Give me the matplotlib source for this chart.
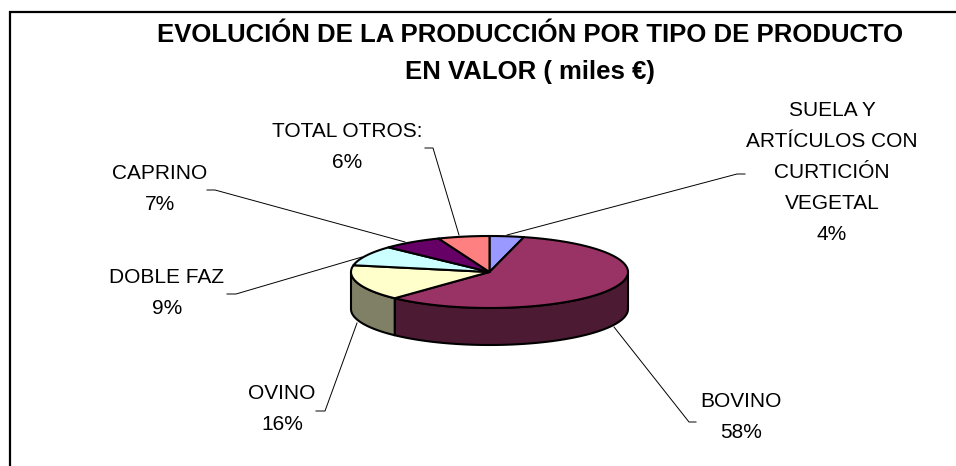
import numpy as np
import matplotlib
matplotlib.use('Agg')
import matplotlib.pyplot as plt
from matplotlib.patches import Polygon

plt.rcParams['font.family'] = ['Liberation Sans', 'DejaVu Sans']

# datos
categorias = ['SUELA Y\nARTÍCULOS CON\nCURTICIÓN\nVEGETAL', 'BOVINO', 'OVINO', 'DOBLE FAZ', 'CAPRINO', 'TOTAL OTROS:']
valores = [4, 58, 16, 9, 7, 6]
titulo = 'EVOLUCIÓN DE LA PRODUCCIÓN POR TIPO DE PRODUCTO\nEN VALOR ( miles €)'

colores = ['#9999FF', '#993366', '#FFFFCC', '#CCFFFF', '#660066', '#FF8080']
laterales = ['#4D4D80', '#4D1A33', '#808066', '#668080', '#330033', '#804040']

# geometria de la tarta en pixeles
cx, cy = 489.5, 272
rx, ry = 138.5, 36
fondo = 37

# posicion de las etiquetas y sus lineas guia
pos_texto = [(832, 172.5), (741, 417), (282, 409), (167, 293), (160, 189), (347, 147)]
guias = [
    [(745, 174), (737, 174), (507, 235)],
    [(696, 422), (689, 422), (614, 327)],
    [(316, 411), (325, 411), (357, 323)],
    [(227, 294), (236, 294), (362, 257)],
    [(207, 190), (215, 190), (405, 242)],
    [(425, 148), (433, 148), (459, 235)],
]


def borde(t):
    # t en grados, en sentido horario desde las 12
    t = np.radians(t)
    return cx + rx * np.sin(t), cy - ry * np.cos(t)


fig = plt.figure(figsize=(9.56, 4.66), dpi=100)
ax = fig.add_axes([0, 0, 1, 1])
ax.set_xlim(0, 956)
ax.set_ylim(466, 0)
ax.axis('off')

# marco, cortado por la derecha y por abajo
ax.plot([10.5, 10.5, 960], [470, 12, 12], color='black', lw=1.6, solid_joinstyle='miter')

cortes = np.concatenate([[0], np.cumsum(valores)]) * 360 / sum(valores)

# primero el lateral
for i in range(len(valores)):
    a = max(cortes[i], 90)
    b = min(cortes[i + 1], 270)
    if a >= b:
        continue
    t = np.linspace(a, b, 80)
    x, y = borde(t)
    pts = np.column_stack([np.r_[x, x[::-1]], np.r_[y, y[::-1] + fondo]])
    ax.add_patch(Polygon(pts, closed=True, fc=laterales[i], ec='black', lw=1.5, joinstyle='round'))

# despues la cara superior
for i in range(len(valores)):
    t = np.linspace(cortes[i], cortes[i + 1], 120)
    x, y = borde(t)
    pts = np.column_stack([np.r_[cx, x], np.r_[cy, y]])
    ax.add_patch(Polygon(pts, closed=True, fc=colores[i], ec='black', lw=1.5, joinstyle='round'))

for g in guias:
    ax.plot([p[0] for p in g], [p[1] for p in g], color='black', lw=0.7)

for nombre, v, p in zip(categorias, valores, pos_texto):
    ax.text(p[0], p[1], '%s\n%d%%' % (nombre, v), ha='center', va='center',
            fontsize=15, linespacing=1.79, color='black')

ax.text(530, 53.5, titulo, ha='center', va='center', fontsize=18.5, fontweight='bold',
        linespacing=1.65, color='black')

fig.savefig('out.png', dpi=100)
